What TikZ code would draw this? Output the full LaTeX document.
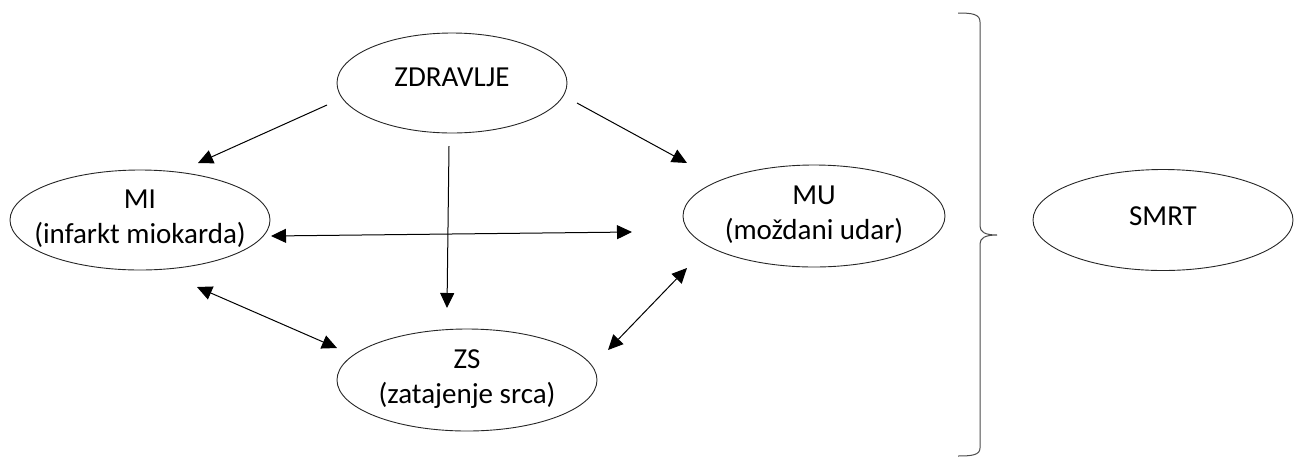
\documentclass[tikz,border=0pt]{standalone}
\usepackage{fontspec}
\setmainfont{Carlito}
\usetikzlibrary{shapes.geometric,arrows.meta,calc}
\begin{document}
\begin{tikzpicture}[x=1pt,y=-1pt,
  oval/.style={draw=black!85,line width=0.9pt,ellipse,inner sep=0pt},
  txt/.style={align=center,inner sep=0pt,font=\fontsize{29}{35}\selectfont},
  tip/.tip={Triangle[length=15pt,width=14pt]},
  arr/.style={line width=1pt,-tip},
  darr/.style={line width=1pt,tip-tip}]
\useasboundingbox (0,0) rectangle (1301,459);
\node[oval,minimum width=230pt,minimum height=100pt] (zd) at (452,83) {};
\node[oval,minimum width=260pt,minimum height=100pt] (mi) at (140,220) {};
\node[oval,minimum width=262pt,minimum height=102pt] (mu) at (814,216) {};
\node[oval,minimum width=260pt,minimum height=102pt] (zs) at (467,380) {};
\node[oval,minimum width=260pt,minimum height=101pt] (smrt) at (1163,220) {};
\node[txt] (zdt) at ($(zd)+(0,-6)$) {ZDRAVLJE};
\node[txt] (mit) at ($(mi)+(0,-1)$) {MI\\(infarkt miokarda)};
\node[txt] (mut) at ($(mu)+(0,-1)$) {MU\\(moždani udar)};
\node[txt] (zst) at ($(zs)+(0,-1)$) {ZS\\(zatajenje srca)};
\node[txt] (smrtt) at ($(smrt)+(0,-4)$) {SMRT};
\draw[arr] ($(zd)+(-125,22)$) -- ($(mi)+(58,-57)$);
\draw[arr] ($(zd)+(125,20)$) -- ($(mu)+(-127,-53)$);
\draw[arr] ($(zd)+(-3,63)$) -- ($(zs)+(-20,-72)$);
\draw[darr] ($(mi)+(131,16)$) -- ($(mu)+(-182,16)$);
\draw[darr] ($(mi)+(57,67)$) -- ($(zs)+(-130,-32)$);
\draw[darr] ($(mu)+(-127,52)$) -- ($(zs)+(141,-30)$);
\draw[line width=1pt,black!70] (958,13) .. controls (972,13) and (980,14) .. (980,22) -- (980,226)
  .. controls (980,232) and (985,235) .. (997,235)
  .. controls (985,235) and (980,238) .. (980,244) -- (980,448)
  .. controls (980,455) and (972,456) .. (958,456);
\end{tikzpicture}
\end{document}
